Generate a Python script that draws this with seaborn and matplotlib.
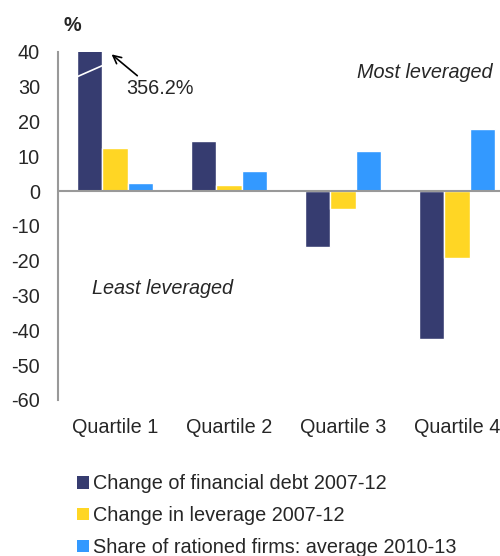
import matplotlib
matplotlib.use("Agg")
import matplotlib.pyplot as plt
import pandas as pd
import seaborn as sns
from matplotlib.patches import Patch

# values
quartiles = ["Quartile 1", "Quartile 2", "Quartile 3", "Quartile 4"]
debt_change = [356.2, 14.4, -16.0, -42.6]
leverage_change = [12.3, 1.9, -5.0, -19.3]
rationed_share = [2.4, 5.8, 11.5, 17.8]
series_names = [
    "Change of financial debt 2007-12",
    "Change in leverage 2007-12",
    "Share of rationed firms: average 2010-13",
]
colors = ["#363C70", "#FFD624", "#3399FF"]

df = pd.DataFrame(
    {
        "quartile": quartiles * 3,
        "series": [s for s in series_names for _ in quartiles],
        "value": debt_change + leverage_change + rationed_share,
    }
)

sns.set_style("white")
plt.rcParams["font.family"] = ["Liberation Sans", "DejaVu Sans"]
plt.rcParams["axes.unicode_minus"] = False
fs = 14.3

fig = plt.figure(figsize=(5.0, 5.56), dpi=100)
ax = fig.add_axes([0.116, 0.2806, 0.912, 0.626])

sns.barplot(
    data=df,
    x="quartile",
    y="value",
    hue="series",
    order=quartiles,
    hue_order=series_names,
    palette=colors,
    width=0.66,
    saturation=1,
    legend=False,
    ax=ax,
)

ax.set_ylim(-60, 40)
ax.set_xlim(-0.5, 3.5)
ax.set_yticks(range(-60, 41, 10))
ax.set_xlabel("")
ax.set_ylabel("")
ax.tick_params(axis="both", length=0, labelsize=fs)
ax.tick_params(axis="x", pad=13)
ax.tick_params(axis="y", pad=13)
for side in ["top", "right", "bottom"]:
    ax.spines[side].set_visible(False)
ax.spines["left"].set_color("#999999")
ax.spines["left"].set_linewidth(1.5)
ax.axhline(0, color="#999999", linewidth=1.5, zorder=3)

# break mark on the truncated bar and its real value
ax.plot([-0.4, -0.06], [31.9, 36.8], color="white", linewidth=1.2, zorder=5, clip_on=False)
ax.annotate(
    "356.2%",
    xy=(-0.03, 39.3),
    xytext=(0.1, 29.5),
    fontsize=fs,
    ha="left",
    va="center",
    arrowprops=dict(arrowstyle="->", color="black", lw=1.2, shrinkA=0, shrinkB=0,
                    relpos=(0.22, 1.0)),
)

ax.text(3.31, 34.2, "Most leveraged", style="italic", fontsize=fs, ha="right", va="center")
ax.text(-0.2, -27.9, "Least leveraged", style="italic", fontsize=fs, ha="left", va="center")
fig.text(0.128, 0.955, "%", fontsize=fs, fontweight="bold", ha="left", va="center")

handles = [Patch(facecolor=c, edgecolor="none") for c in colors]
fig.legend(
    handles,
    series_names,
    loc="upper left",
    bbox_to_anchor=(0.154, 0.147),
    frameon=False,
    fontsize=fs,
    handlelength=0.6,
    handleheight=0.6,
    handletextpad=0.2,
    labelspacing=0.65,
    borderaxespad=0,
    borderpad=0,
)

fig.savefig("out.png", dpi=100)
